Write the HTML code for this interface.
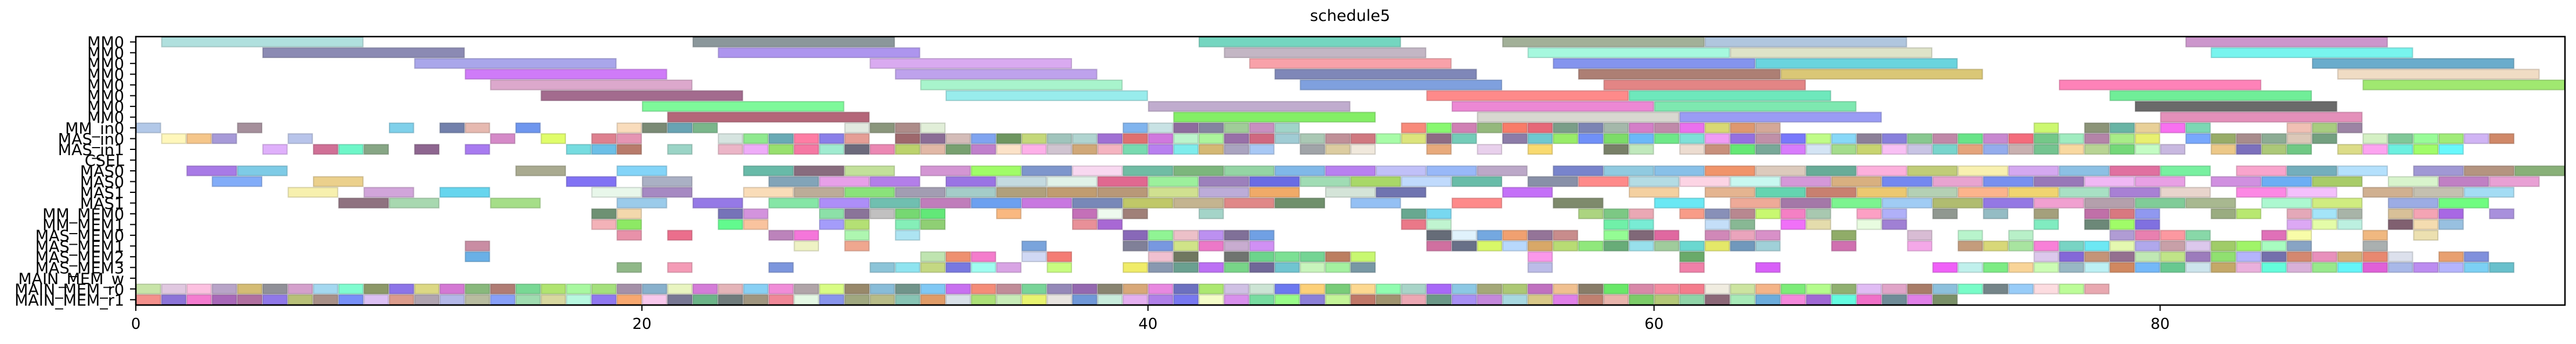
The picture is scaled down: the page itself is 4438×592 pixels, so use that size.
<!DOCTYPE html>
<html><head><meta charset="utf-8"><title>schedule5</title>
<style>
html,body{margin:0;padding:0;background:#fff;}
svg{display:block;font-family:"DejaVu Sans","Liberation Sans",sans-serif;}
</style></head>
<body>
<svg id="chart" width="4438" height="592" viewBox="0 0 4438 592" xmlns="http://www.w3.org/2000/svg">
<text x="2326" y="36" font-size="27" text-anchor="middle" fill="#000">schedule5</text>
<g id="bars"></g>
<g id="axes"></g>
</svg>
<script>
const rowLabels = ["MM0","MM0","MM0","MM0","MM0","MM0","MM0","MM0","MM_in0","MAS_in0","MAS_in1","CSEL","MAS0","MAS0","MAS1","MAS1","MM_MEM0","MM_MEM1","MAS_MEM0","MAS_MEM1","MAS_MEM2","MAS_MEM3","MAIN_MEM_w","MAIN_MEM_r0","MAIN_MEM_r1"];
const rowDur = [8,8,8,8,8,8,8,8,1,1,1,1,2,2,2,2,1,1,1,1,1,1,1,1,1];
const xTicks = [0,20,40,60,80];
const xMax = 96;
const starts = [
[1,22,42,54,62,81],
[5,23,43,55,63,82],
[11,29,44,56,64,86],
[13,30,45,57,65,87],
[14,31,46,58,76,88],
[16,32,51,59,78],
[20,40,52,60,79],
[21,41,53,61,80],
[0,4,10,12,13,15,19,20,21,22,28,29,30,31,39,40,41,42,43,44,45,50,51,52,53,54,55,56,57,58,59,60,61,62,63,64,75,77,78,79,80,81,85,86,87],
[1,2,3,6,14,16,18,19,23,24,25,26,27,28,30,31,32,33,34,35,36,37,38,39,40,41,42,43,44,45,46,47,48,49,50,51,52,54,55,56,57,58,59,60,61,62,63,64,65,66,67,68,69,70,71,72,73,74,75,76,77,78,79,81,82,83,84,85,86,88,89,90,91,92,93],
[5,7,8,9,11,13,17,18,19,21,23,24,25,26,27,28,29,30,31,32,33,34,35,36,37,38,39,40,41,42,43,44,46,47,48,51,53,55,58,59,61,62,63,64,65,66,67,68,69,70,71,72,73,74,75,76,77,78,79,80,82,83,84,85,87,88,89,90,91],
[],
[2,4,15,19,24,26,28,31,33,35,37,39,41,43,45,47,49,51,53,56,58,60,62,64,66,68,70,72,74,76,78,80,83,85,87,90,92,94],
[3,7,17,20,25,27,29,32,34,36,38,40,42,44,46,48,50,52,55,57,59,61,63,65,67,69,71,73,75,77,79,82,84,86,89,91,93],
[6,9,12,18,20,24,26,28,30,32,34,36,38,40,42,44,47,49,54,59,62,64,66,68,70,72,74,76,78,80,83,85,88,90,92],
[8,10,14,19,22,25,27,29,31,33,35,37,39,41,43,45,48,52,56,60,63,65,67,69,71,73,75,77,79,81,84,86,89,91],
[18,19,23,24,27,28,29,30,31,34,37,38,39,42,50,51,57,58,59,61,62,63,64,65,66,68,69,71,73,75,77,78,79,82,83,85,86,87,89,90,91,93],
[18,19,23,24,27,28,30,31,37,38,50,51,58,59,62,63,65,66,68,69,75,77,78,79,85,86,87,89,90,91],
[19,21,25,26,28,30,39,40,41,42,43,44,51,52,53,54,55,56,58,59,60,62,63,64,67,70,72,74,78,79,80,81,84,85,88,90],
[13,26,28,35,39,40,41,42,43,44,51,52,53,54,55,56,57,58,59,60,61,62,63,64,67,70,72,73,74,75,76,77,78,79,80,81,82,83,84,85,88],
[13,31,32,33,35,36,40,41,43,44,45,46,47,48,55,61,75,76,77,78,79,80,81,82,83,84,85,86,87,88,89,91,92],
[19,21,25,29,30,31,32,33,34,36,39,40,41,42,43,44,45,46,47,48,55,61,64,71,72,73,74,75,76,77,78,79,80,81,82,83,84,85,86,87,88,89,90,91,92,93],
[],
[0,1,2,3,4,5,6,7,8,9,10,11,12,13,14,15,16,17,18,19,20,21,22,23,24,25,26,27,28,29,30,31,32,33,34,35,36,37,38,39,40,41,42,43,44,45,46,47,48,49,50,51,52,53,54,55,56,57,58,59,60,61,62,63,64,65,66,67,68,69,70,71,72,73,74,75,76,77],
[0,1,2,3,4,5,6,7,8,9,10,11,12,13,14,15,16,17,18,19,20,21,22,23,24,25,26,27,28,29,30,31,32,33,34,35,36,37,38,39,40,41,42,43,44,45,46,47,48,49,50,51,52,53,54,55,56,57,58,59,60,61,62,63,64,65,66,67,68,69,70,71]
];
const colors = [
"b0e0de 8b979b 74d6c0 a2b098 b0c6de cc96cc",
"8b8ab3 ad95ee c3b6c4 a6f8de dee3c8 78f4ee",
"a9a6ea d9aaf0 f8a1a9 8494ee 6ad4de 6aaccc",
"cf7bf8 bea2ec 7f87b8 ad7f74 dac776 f0dcc4",
"dca8cc a8f4cc 7fa0de e38585 fe82b8 a0e870",
"a36b8e 98ecec fe8a8a 6ee8bc 70ee98",
"7ef99a c0acce ec88d4 7ee8b0 6a6a6a",
"b46679 84ee66 d8d8d0 9a9cf4 e490ba",
"b2c8e8 a58f9b 7fd0ea 7280ab e6b9b0 6e96ee f9dcbc 7a8a75 68a3b3 7ab68a e2e9e0 8a967c ad8c89 e1eed8 80b4ee c8e2e4 8e6c9e 8484a0 a0cc98 c890c0 a0d4c8 f88a7a 88f870 d080b4 94b87c f87c68 e66878 7a9e88 7c84b4 a4b8aa d47ec8 c08aaa ea70ee d8d874 de9870 d4a898 ccf870 8c9478 68b4a4 e8d098 f870f0 7cd8b4 f0c0b4 a8cc80 9c84a4",
"fff7bb f5c68a a79ad8 b8c4ea d58ac8 e0fd6a de808f e595b3 d6e4e0 8fe98f 69aab5 fe7da4 8a7fe9 e59e96 9e686c 8b6d96 d4bcb8 80a4f0 6e9660 c4d87a a0c4bc b0d4d0 a070d4 e07070 d078de bcf4cc acf49c 9870a8 d06880 a0ccd4 aac8b4 c09098 d07880 a8fca8 dce47c 8e6c84 74ccb8 8c7ca8 6ec8d0 98ec68 7090f8 7cdc68 6cb8f8 6ee888 7ee0d8 f09cf4 9670e0 c090a8 7878fc c0fc88 88d8f8 8c8098 8880dc 88c890 c088a8 68e488 c888d0 f46c7c 74c888 a0ecc0 b484a8 a8ec88 e8f070 78a8fc 98ac68 a88c8c 8cac94 dcc8b8 74a080 d4f0c4 80c898 98fc98 a0ec78 d0b4f4 d08868",
"dfb0fb d07096 6ef6c8 87a685 8e6690 a87bf0 76dce0 6cbfe6 b87b6b 9bd4c6 ebb5c7 eeacf8 98e06e f578a3 a0ebd0 6c6a7c eb88b3 bcd26c e1b8a6 78a070 c080cc fbe2c8 fdb0e8 d0c4d0 d0a878 f4b4c0 78dab0 b880f0 7eecec d4b874 aaa4c0 a8c8f4 a0a4a8 dccca0 f0e8dc e8aa7c e8d0ec f8da70 788068 c0e8bc ecdcd0 c8907c 64e874 78a898 d87cfc d4e4f4 a4dc8c c8d470 f8c0f4 c8c4e4 78d4cc e4a47c 94acec c8b0b0 74c490 f8d8a0 b8d494 74d878 c4fcc4 c8b8e0 ecc888 7c70bc acc878 70c884 dcdc88 fca4f0 6cf0e0 a0fc68 68f8fc",
"",
"a87ae6 7ecbe6 a9aa90 83d4f8 68baa8 886c7e c2e09a d395d3 a0fc68 7e96cc f8d8f0 70bca4 7cb67c 94d4a4 80b8e8 b880f0 c0c0f8 98b8f8 bca8c8 7884cc 90cae0 88c0e8 f0946a dccabc 68ac98 fcb0dc c0cc78 f8f0b0 d4a8f0 8cc0e4 e070a0 78f0a0 f8a4cc 74aebc b4e0fc a098d4 b49480 88b078",
"82acf8 ebd08c 8172f4 aab0c4 82a4b8 e7a0e8 b37ee9 9a74e4 c4dae0 e0f2e8 e06890 9cf09c 9c80bc 6a6ce4 a0dcb4 a8d868 c0dafc 68bca8 8890a8 fe8a8a b4dce4 fcd4e4 c8f8f0 d498d8 d8b080 7488f0 e8a4d0 7890f0 9878b8 f0b8f4 e8a0e4 d090e0 6caef4 a8cc68 d8f4cc c080c4 e8a0d4",
"f7f0ae d1a5da 66d5ee e8f7ea a689c2 f9dcb8 bcac98 8ae27a a29db2 a4ccc8 b0a07c c09c70 b89878 d0e090 bcacd8 f0aa68 d4e4d8 7074b0 c470f8 f4d0a0 e4b490 64d4b0 c88070 ecc870 b4d0b4 fcb48c f0d470 a8e0c4 a880d4 e8d4cc fc88e4 f4c0fc d0b090 c4c0b0 a4dcf4",
"8f7280 a8d8b0 a5de88 9bcbea 9579e6 85e6a6 ad8ef8 70bfb0 c07dbb 6ca0f0 c878e0 7888b8 c0c868 c4b490 e08888 70906c 94c0f4 fe8a8a 7e8a6c 6ae8f4 eeaa98 a478a8 7cf490 a0ccf4 b0bc70 9478e4 f0a0d0 b4a0ac 80cc98 a8b890 acf8d0 d0ec80 9cace4 70fc80",
"6e9173 f3d8ac 7673b8 d393dd 8ce0a8 8a7499 c1c0c0 76d872 62e878 f9b880 c470b8 eefaee a08078 a4d4c8 68a890 78d8f0 acd480 7cc884 eaa8b4 f89c88 8890b8 b88890 c8f870 f480c4 a8c8b0 fca0c4 b0b0f8 909890 94bcc4 a4a07c c070a8 d87880 9098f0 9aac80 b8e870 e4a8b8 a4e4f8 a8b4a8 d8c098 f4a4b4 a868e4 a890dc",
"f3b2b8 8de964 62fa8e f9c39e a49cfa b4e074 85efb8 8fcf74 e89098 a868d4 ea7888 c0f4d0 70f0a8 78ecd4 c4def8 88b894 f070f8 e4dcac e8fce0 a080d4 80ecc0 6c8878 a0fc68 8070e0 dca8f4 e4fca8 bcf0e0 806070 f4dcb0 98c0e0",
"e891a9 eb6e8c bc83bb f576da aef6b0 ade4f2 8868b8 90f494 ecc0c8 bc90f0 807098 70a0e4 666c78 e0f2fc 74a8e0 f0a070 947498 c88c8c 94fc94 806878 e068a0 d088b8 eaa4bc d890c8 90ac68 d8bcd4 b8f4cc b8f0c8 b09cd4 e880b0 fc98a0 88d8a8 e070b8 f8fca8 f0b880 ece0b0",
"c98da3 eef2c4 efa78f 7aa4dc 808098 7898e0 d0e488 ec78c8 c8acd0 d090f4 d070a0 687088 d8f868 b8d8fc d8a868 b8dc74 90e87c 68ac78 98e0ec a0cc9c 6ad8d0 e4e868 7098bc a0d0d8 d070b0 f4a8e8 c49c7c d8d878 a8e4a0 f880d8 78d4c4 6ce8f4 e4f8b0 b0a8ec c8a0a8 dcc8ec a0cc68 a0f468 a8fcc0 88a4c4 aab0b0",
"6ab0e6 bfe4b0 ee9070 f47ccc d0d8f4 f47c74 f0c0d0 707860 707470 6cd48c 7ce094 74d494 bc7e60 c8f870 fa98ea 6aaa6a dcc8ec 8468d8 c49478 947090 c0e8b4 c0e488 9c7cbc 90e070 b4b4fc 7470ac d48870 e890bc d4b078 e88870 dce0ec e8a070 8090dc",
"90b888 f49bb6 7c96dd 8cc4d8 8fe4f0 c4d882 7878e0 a0fcf0 d8a4e4 c8fc80 f0ec68 8898b0 6aa090 bc70f4 78d488 706898 70c4d0 c8f4bc a4f0a0 7898a4 bcbce8 f080a8 d860f8 f060f8 c0f0ec 7cec84 f8d498 ccfcb4 98b8c4 bcf0f4 d08860 74b8f8 68c890 cce4ec c4a868 eab0dc 64fcdc d8b0d8 98e88c 64f4f8 e060d8 a8b8e8 bc8cf0 b4b4fc 7cd0f4 68c0cc",
"",
"c8e4a8 e0c8e0 fcc0e0 b8a4c8 d4bc74 909098 d4a0cc a4d8f0 80fcd0 8c9868 8c74e8 dcd884 d478d4 88b87c b07c74 78d894 b0e470 a8f8a0 a4e07c a490a8 88b0cc e8f4c0 d47cd8 e4b4b8 88d0f4 f08cd8 b0a4a8 d8fc84 98886a 88bcd8 70948a 80c8f4 c870f0 f48c78 c08c98 78d498 9488b8 9468b0 888470 d8a878 e888e0 6c70c0 ace870 d0c0e4 cce4d4 6c78f0 fcd078 78cc78 fcd890 90fcb0 a8d4c8 a868f8 8cc8e4 a4a878 acc874 c070c0 f0c090 887c68 68e868 d888a8 f48ca0 f47c8c f0ece0 cce4a0 f4b488 7cec78 b4fc8c 90b070 e0bcf4 e0a4c8 a87c68 8cc0dc 78fcc8 748488 98ccf8 fcdce0 bcfc98 e8a8b0",
"f4908c 8c74d8 f47cd0 a868b8 b070a0 9078e8 b8c078 a89088 7890f8 dcc0f4 dc9c8c b0a4b0 b4b8e8 b8bca0 88a0f8 a0dcb0 d8d8a0 b8f8e0 9078f0 f8a870 f8c8ec 787894 6cb488 707c7c a09680 f08898 e4f8e4 8894ec a0a880 b8bc88 88c4b4 e09c68 d8e0e8 ace078 c8ecb8 e8f470 e8e4e0 7098d8 c8ecdc e4b0f0 b080e8 7878f0 f4fcc8 d890ec 78dca0 98fc88 8c80d8 c4f498 c07868 a09470 eca8b4 6c9888 a890f4 c488dc a8d8e0 d8c888 e080e8 c08070 e8b4ac 7ccc68 b4c878 90d4a8 8c6878 a8eab8 6cacdc f488dc a068d4 64fce0 f070c8 708c98 e080e8 7a9068"
];

const L = 234, R = 4419, T = 63, B = 525;
const nRows = rowLabels.length;
const rowH = (B - T) / nRows;
function xs(v){ return L + (R - L) * v / xMax; }
function ys(r){ return T + r * rowH; }
function darken(hex){
  const n = parseInt(hex,16);
  const r = Math.round(((n>>16)&255)*0.78), g = Math.round(((n>>8)&255)*0.78), b = Math.round((n&255)*0.78);
  return "rgb("+r+","+g+","+b+")";
}
const NS = "http://www.w3.org/2000/svg";
const gb = document.getElementById("bars");
for (let r = 0; r < nRows; r++) {
  const cl = colors[r] ? colors[r].split(" ") : [];
  starts[r].forEach((s, i) => {
    const c = cl[i % Math.max(cl.length,1)] || "aaaaaa";
    const rect = document.createElementNS(NS, "rect");
    rect.setAttribute("x", xs(s) + 1);
    rect.setAttribute("y", ys(r) + 1);
    rect.setAttribute("width", xs(s + rowDur[r]) - xs(s) - 2);
    rect.setAttribute("height", rowH - 2);
    rect.setAttribute("fill", "#" + c);
    rect.setAttribute("stroke", darken(c));
    rect.setAttribute("stroke-opacity", "0.6");
    rect.setAttribute("stroke-width", "2");
    
    
    gb.appendChild(rect);
  });
}
const ga = document.getElementById("axes");
const frame = document.createElementNS(NS, "rect");
frame.setAttribute("x", L); frame.setAttribute("y", T);
frame.setAttribute("width", R - L); frame.setAttribute("height", B - T);
frame.setAttribute("fill", "none"); frame.setAttribute("stroke", "#000"); frame.setAttribute("stroke-width", "2.5");


ga.appendChild(frame);
for (let r = 0; r < nRows; r++) {
  const y = ys(r) + rowH / 2;
  const tk = document.createElementNS(NS, "line");
  tk.setAttribute("x1", L - 10); tk.setAttribute("x2", L); tk.setAttribute("y1", y); tk.setAttribute("y2", y);
  tk.setAttribute("stroke", "#000"); tk.setAttribute("stroke-width", "2");
  
  
  ga.appendChild(tk);
  const t = document.createElementNS(NS, "text");
  t.setAttribute("x", L - 20); t.setAttribute("y", y + 10);
  t.setAttribute("font-size", "27"); t.setAttribute("text-anchor", "end");
  t.textContent = rowLabels[r];
  
  
  ga.appendChild(t);
}
xTicks.forEach(v => {
  const x = xs(v);
  const tk = document.createElementNS(NS, "line");
  tk.setAttribute("x1", x); tk.setAttribute("x2", x); tk.setAttribute("y1", B); tk.setAttribute("y2", B + 10);
  tk.setAttribute("stroke", "#000"); tk.setAttribute("stroke-width", "2");
  
  
  ga.appendChild(tk);
  const t = document.createElementNS(NS, "text");
  t.setAttribute("x", x); t.setAttribute("y", 566);
  t.setAttribute("font-size", "26"); t.setAttribute("text-anchor", "middle");
  t.textContent = String(v);
  
  
  ga.appendChild(t);
});
</script>
</body></html>
